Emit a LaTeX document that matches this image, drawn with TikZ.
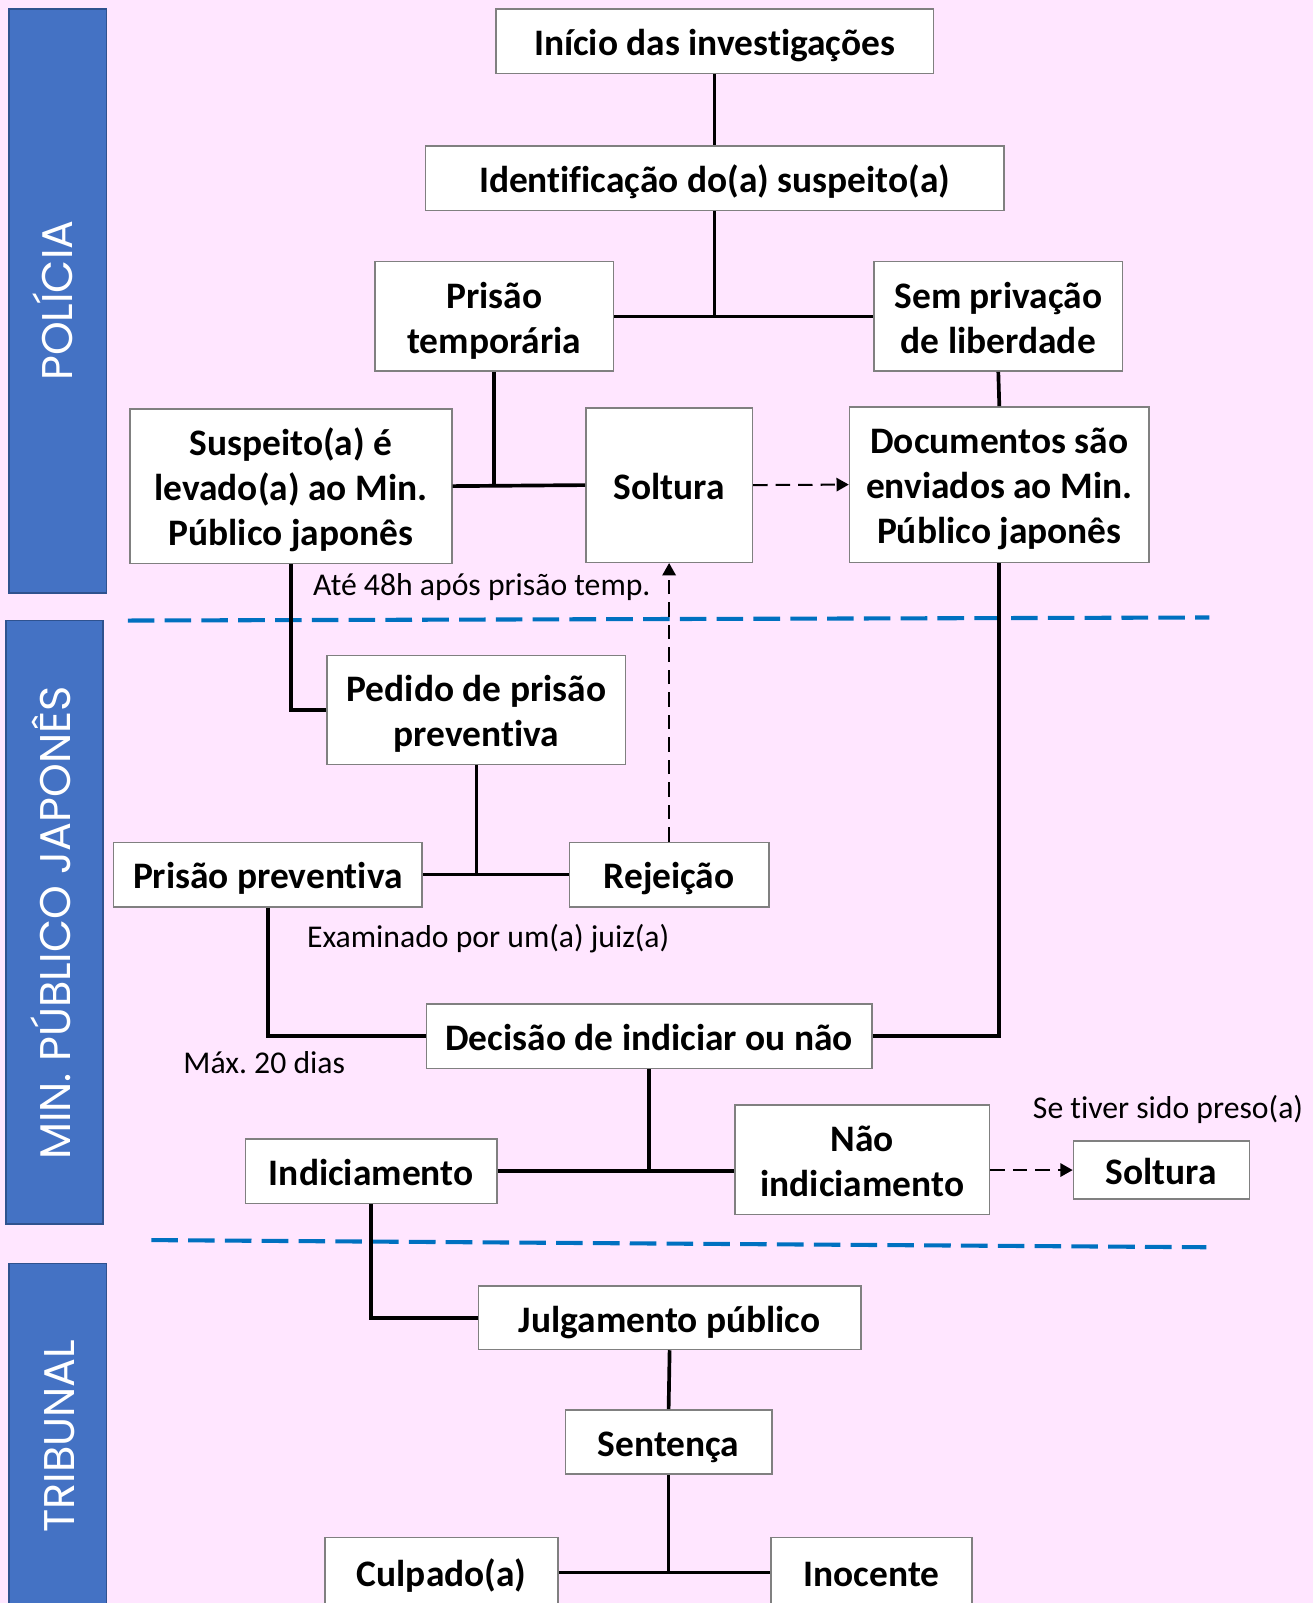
\documentclass[tikz,border=0pt]{standalone}
\usepackage{fontspec}
\setmainfont{Carlito}[Ligatures=CommonOff]
\newfontfamily\lanefont{Poppins}
\usetikzlibrary{arrows.meta}
\definecolor{bgpink}{RGB}{255,230,255}
\definecolor{lanefill}{RGB}{68,114,196}
\definecolor{laneedge}{RGB}{47,82,143}
\definecolor{divblue}{RGB}{0,112,192}
\definecolor{boxedge}{RGB}{128,128,128}
\newcommand{\bt}[1]{\raisebox{-2.6pt}[\height][\depth]{\begin{tabular}{@{}c@{}}#1\end{tabular}}}
\frenchspacing
\begin{document}
\begin{tikzpicture}[x=0.5pt,y=-0.5pt,
  box/.style={draw=boxedge,fill=white,line width=0.75pt,inner sep=0pt,font=\fontsize{18.3}{22}\selectfont\bfseries},
  link/.style={line width=1.8pt,black},
  dasharrow/.style={line width=1pt,dash pattern=on 7pt off 4pt,-{Triangle[length=6pt,width=6.5pt]}},
  lane/.style={fill=lanefill,draw=laneedge,line width=0.8pt},
  lanelabel/.style={text=white,rotate=90,inner sep=0pt,font=\lanefont\fontsize{21}{24}\selectfont},
  note/.style={anchor=west,inner sep=0pt,font=\fontsize{15.5}{18}\selectfont},
  divider/.style={divblue,line width=2pt,dash pattern=on 13pt off 5pt}]
\useasboundingbox (0,0) rectangle (1284,1568);
\fill[bgpink] (0,0) rectangle (1284,1568);

% lanes
\draw[lane] (9,9) rectangle (104,580);
\draw[lane] (6,607) rectangle (101,1197);
\draw[lane] (9,1236) rectangle (104,1590);
\node[lanelabel] (lpol) at (51.5,294) {POLÍCIA};
\node[lanelabel] (lmin) at (50,903) {MIN. PÚBLICO JAPONÊS};
\node[lanelabel] (ltri) at (58,1405) {TRIBUNAL};

% dividers
\draw[divider] (125,607) -- (1183,604);
\draw[divider] (148,1213) -- (1180,1220);

% boxes
\node[box,minimum width=214pt,minimum height=31.5pt] (inicio) at (699,40.5) {\bt{Início das investigações}};
\node[box,minimum width=283pt,minimum height=31.5pt] (ident) at (699,174.5) {\bt{Identificação do(a) suspeito(a)}};
\node[box,minimum width=116.5pt,minimum height=53.5pt] (ptemp) at (483.5,309.5) {\bt{Prisão\\temporária}};
\node[box,minimum width=121.5pt,minimum height=53.5pt] (sempriv) at (976.5,309.5) {\bt{Sem privação\\de liberdade}};
\node[box,minimum width=157.5pt,minimum height=75.5pt] (suspeito) at (284.5,475.5) {\bt{Suspeito(a) é\\levado(a) ao Min.\\Público japonês}};
\node[box,minimum width=81.5pt,minimum height=75.5pt] (soltura1) at (654.5,474.5) {\bt{Soltura}};
\node[box,minimum width=146.5pt,minimum height=76pt] (docs) at (977.5,474) {\bt{Documentos são\\enviados ao Min.\\Público japonês}};
\node[box,minimum width=146pt,minimum height=53.5pt] (pedido) at (466,694.5) {\bt{Pedido de prisão\\preventiva}};
\node[box,minimum width=151pt,minimum height=31.5pt] (ppreventiva) at (262,855.5) {\bt{Prisão preventiva}};
\node[box,minimum width=97.5pt,minimum height=31.5pt] (rejeicao) at (654.5,855.5) {\bt{Rejeição}};
\node[box,minimum width=218pt,minimum height=31.5pt] (decisao) at (635,1013.5) {\bt{Decisão de indiciar ou não}};
\node[box,minimum width=123pt,minimum height=31.5pt] (indic) at (363,1145.5) {\bt{Indiciamento}};
\node[box,minimum width=124.5pt,minimum height=53.5pt] (naoindic) at (843.5,1134.5) {\bt{Não\\indiciamento}};
\node[box,minimum width=86pt,minimum height=28.5pt] (soltura2) at (1136,1144.5) {\bt{Soltura}};
\node[box,minimum width=187pt,minimum height=31pt] (julg) at (655,1289) {\bt{Julgamento público}};
\node[box,minimum width=101pt,minimum height=31.5pt] (sentenca) at (654,1410.5) {\bt{Sentença}};
\node[box,minimum width=114pt,minimum height=34pt] (culpado) at (432,1538) {\bt{Culpado(a)}};
\node[box,minimum width=98.5pt,minimum height=34pt] (inocente) at (852.5,1538) {\bt{Inocente}};

% notes
\node[note] (n48) at (306,574) {Até 48h após prisão temp.};
\node[note] (nexam) at (300,918) {Examinado por um(a) juiz(a)};
\node[note] (nmax) at (179,1039) {Máx. 20 dias};
\node[note] (npreso) at (1010,1085) {Se tiver sido preso(a)};

% connectors
\draw[link] (inicio.south) -- (ident.north);
\draw[link] (ident.south) -- (ident.south |- ptemp.east);
\draw[link] (ptemp.east) -- (sempriv.west);
\draw[link] (ptemp.south) -- (ptemp.south |- suspeito.east);
\draw[link] (suspeito.east) -- (soltura1.west);
\draw[link] (sempriv.south) -- (docs.north);
\draw[dasharrow] (soltura1.east) -- (docs.west);
\draw[link] (suspeito.south) |- (pedido.west);
\draw[link] (pedido.south) -- (pedido.south |- ppreventiva.east);
\draw[link] (ppreventiva.east) -- (rejeicao.west);
\draw[dasharrow] (rejeicao.north) -- (soltura1.south);
\draw[link] (ppreventiva.south) |- (decisao.west);
\draw[link] (docs.south) |- (decisao.east);
\draw[link] (decisao.south) -- (decisao.south |- indic.east);
\draw[link] (indic.east) -- (naoindic.west |- indic.east);
\draw[dasharrow] (naoindic.east |- soltura2.west) -- (soltura2.west);
\draw[link] (indic.south) |- (julg.west);
\draw[link] (julg.south) -- (sentenca.north);
\draw[link] (sentenca.south) -- (sentenca.south |- culpado.east);
\draw[link] (culpado.east) -- (inocente.west);
\end{tikzpicture}
\end{document}
